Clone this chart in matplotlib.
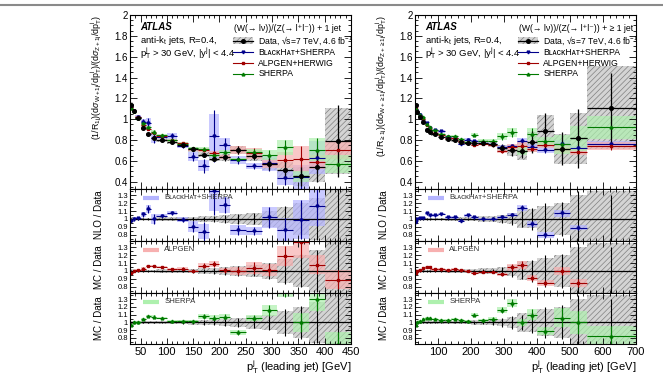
"""W/Z + jet ratio vs leading-jet pT, ATLAS style two-column figure."""
import numpy as np
import matplotlib.pyplot as plt
from matplotlib.lines import Line2D
from matplotlib.patches import Rectangle
from matplotlib.ticker import MultipleLocator

plt.rcParams['font.family'] = ['Liberation Sans', 'DejaVu Sans']
plt.rcParams['mathtext.fontset'] = 'custom'
plt.rcParams['mathtext.rm'] = 'Liberation Sans'
plt.rcParams['mathtext.it'] = 'Liberation Sans:italic'
plt.rcParams['mathtext.bf'] = 'Liberation Sans:bold'
plt.rcParams['hatch.linewidth'] = 0.5

# ---- exclusive 1 jet (left column) ----
EDGES_1J = [30, 35, 40, 50, 60, 70, 80, 100, 120, 140, 160, 180, 200, 220,
            250, 280, 310, 340, 370, 400, 450]
DATA_1J = [1.14, 1.08, 1.01, 0.92, 0.855, 0.82, 0.80, 0.78, 0.75, 0.71,
           0.66, 0.62, 0.635, 0.705, 0.65, 0.567, 0.51, 0.45, 0.545, 0.79]
STAT_1J = [0.01, 0.01, 0.01, 0.01, 0.01, 0.01, 0.01, 0.01, 0.015, 0.02,
           0.03, 0.04, 0.05, 0.06, 0.07, 0.1, 0.17, 0.21, 0.27, 0.44]
SYST_1J = [0.02, 0.02, 0.015, 0.015, 0.015, 0.015, 0.02, 0.02, 0.025, 0.03,
           0.035, 0.04, 0.05, 0.06, 0.08, 0.1, 0.15, 0.2, 0.27, 0.4]
BH_1J = [0.98, 1.0, 1.01, 1.06, 1.13, 1.0, 1.04, 1.075, 0.99, 0.90,
         0.84, 1.35, 1.18, 0.86, 0.85, 1.02, 0.86, 0.99, 1.16, np.nan]
BH_BAND_1J = [0.02, 0.02, 0.02, 0.03, 0.05, 0.06, 0.02, 0.03, 0.03, 0.07,
              0.1, 0.25, 0.1, 0.06, 0.05, 0.13, 0.15, 0.25, 0.25, 0.0]
BH_ERR_1J = [0.02, 0.02, 0.02, 0.03, 0.05, 0.06, 0.02, 0.03, 0.03, 0.07,
             0.12, 0.3, 0.1, 0.06, 0.05, 0.13, 0.15, 0.25, 0.25, 0.0]
ALP_1J = [0.98, 1.0, 1.01, 1.03, 1.065, 1.06, 1.05, 1.02, 1.03, 1.0,
          1.065, 1.09, 1.01, 1.0, 1.035, 1.01, 1.19, 1.37, 1.08, 0.89]
ALP_BAND_1J = [0.015, 0.015, 0.015, 0.015, 0.015, 0.015, 0.015, 0.015, 0.015, 0.015,
               0.03, 0.035, 0.03, 0.05, 0.08, 0.08, 0.13, 0.2, 0.12, 0.12]
SHP_1J = [0.97, 1.0, 1.0, 1.045, 1.08, 1.075, 1.06, 1.02, 1.02, 1.015,
          1.08, 1.06, 1.075, 0.87, 1.06, 1.155, 1.43, 1.0, 1.3, 0.72]
SHP_BAND_1J = [0.015, 0.015, 0.015, 0.015, 0.015, 0.015, 0.015, 0.015, 0.015, 0.015,
               0.03, 0.03, 0.03, 0.03, 0.04, 0.07, 0.1, 0.12, 0.15, 0.15]

# ---- inclusive >= 1 jet (right column) ----
EDGES_GE1J = [30, 35, 40, 50, 60, 70, 80, 100, 120, 140, 160, 180, 200, 220,
              250, 280, 310, 340, 370, 400, 450, 500, 550, 700]
DATA_GE1J = [1.135, 1.07, 1.024, 0.97, 0.90, 0.88, 0.855, 0.832, 0.81, 0.80,
             0.78, 0.77, 0.775, 0.775, 0.76, 0.72, 0.70, 0.695, 0.78, 0.885,
             0.715, 0.815, 1.11]
STAT_GE1J = [0.01, 0.01, 0.01, 0.01, 0.01, 0.01, 0.01, 0.01, 0.01, 0.01,
             0.01, 0.01, 0.015, 0.02, 0.03, 0.055, 0.08, 0.1, 0.14, 0.2,
             0.22, 0.35, 0.3]
SYST_GE1J = [0.02, 0.015, 0.015, 0.015, 0.015, 0.015, 0.015, 0.015, 0.02, 0.02,
             0.02, 0.025, 0.03, 0.035, 0.04, 0.05, 0.07, 0.12, 0.12, 0.17,
             0.2, 0.3, 0.36]
BH_GE1J = [0.96, 1.0, 1.015, 1.015, 1.07, 1.045, 1.045, 1.06, 1.02, 1.02,
           0.98, 1.045, 1.02, 1.0, 1.0, 1.02, 1.055, 1.14, 0.94, 0.80,
           1.07, 0.89, 0.69]
BH_BAND_GE1J = [0.015] * 16 + [0.02, 0.04, 0.04, 0.04, 0.04, 0.03, 0.03]
ALP_GE1J = [0.98, 1.0, 1.01, 1.035, 1.05, 1.045, 1.02, 1.02, 1.015, 1.02,
            1.01, 1.0, 0.975, 0.985, 0.99, 0.96, 1.045, 1.07, 0.91, 0.85,
            1.0, 0.845, 0.67]
ALP_BAND_GE1J = [0.015] * 15 + [0.02, 0.04, 0.05, 0.04, 0.04, 0.05, 0.05, 0.05]
SHP_GE1J = [0.965, 1.0, 1.02, 1.05, 1.06, 1.055, 1.045, 1.035, 1.035, 1.045,
            1.035, 1.02, 1.1, 1.025, 1.045, 1.16, 1.25, 1.0, 1.1, 0.89,
            1.06, 1.0, 0.83]
SHP_BAND_GE1J = [0.01] * 12 + [0.02, 0.015, 0.02, 0.04, 0.05, 0.05, 0.07, 0.05,
                               0.12, 0.15, 0.12]

BH_LABEL = 'B\u029f\u1d00\u1d04\u1d0bH\u1d00\u1d1b+SHERPA'

STYLES = {
    'bh': dict(color='#00008b', band='#b4b4ff', marker='v', ms=2.0),
    'alp': dict(color='#a00000', band='#f7b0b0', marker='s', ms=2.0),
    'shp': dict(color='#007a00', band='#aef0ae', marker='^', ms=2.0),
}
GRAY_FACE = '#d4d4d4'
GRAY_HATCH = '#808080'

W, H = 663, 376


def fig_rect(x0, y0, x1, y1):
    """pixel box -> figure fraction [left, bottom, width, height]"""
    return [x0 / W, 1 - y1 / H, (x1 - x0) / W, (y1 - y0) / H]


def style_axis(ax, xmax, xmajor, xminor):
    ax.set_xlim(30, xmax)
    ax.xaxis.set_major_locator(MultipleLocator(xmajor))
    ax.xaxis.set_minor_locator(MultipleLocator(xminor))
    ax.tick_params(which='both', direction='in', top=True, right=True, width=0.6)
    ax.tick_params(which='major', length=5)
    ax.tick_params(which='minor', length=2.5)
    for s in ax.spines.values():
        s.set_linewidth(0.8)


def draw_boxes(ax, edges, centre, half, **kw):
    edges = np.asarray(edges, float)
    centre = np.asarray(centre, float)
    half = np.asarray(half, float)
    ax.bar(edges[:-1], 2 * half, width=np.diff(edges), bottom=centre - half,
           align='edge', linewidth=0, **kw)


def draw_points(ax, edges, y, yerr, color, marker, ms, lw=0.8):
    edges = np.asarray(edges, float)
    mid = 0.5 * (edges[:-1] + edges[1:])
    ax.errorbar(mid, y, xerr=np.diff(edges) / 2, yerr=yerr, fmt=marker, color=color,
                ms=ms, lw=lw, elinewidth=lw, capsize=0)


def draw_column(fig, px0, px1, edges, data, stat, syst, mcs, xmax, xmajor, xminor,
                ylabel, title):
    data = np.asarray(data, float)
    stat = np.asarray(stat, float)
    syst = np.asarray(syst, float)

    ax = fig.add_axes(fig_rect(px0, 15, px1, 189))
    rats = [fig.add_axes(fig_rect(px0, y0, px1, y1))
            for y0, y1 in [(189, 241), (241, 293), (293, 344)]]

    # main panel
    draw_boxes(ax, edges, data, data * syst, facecolor=GRAY_FACE, edgecolor=GRAY_HATCH,
               hatch='//////')
    for key, ratio, band, err in mcs:
        st = STYLES[key]
        val = data * np.asarray(ratio, float)
        draw_boxes(ax, edges, val, val * np.asarray(band), color=st['band'], alpha=0.7)
    for key, ratio, band, err in mcs:
        st = STYLES[key]
        val = data * np.asarray(ratio, float)
        draw_points(ax, edges, val, val * np.asarray(err), st['color'], st['marker'], st['ms'])
    draw_points(ax, edges, data, data * stat, 'black', 'o', 2.6, lw=0.9)

    style_axis(ax, xmax, xmajor, xminor)
    ax.set_ylim(0.33, 2.0)
    ax.yaxis.set_minor_locator(MultipleLocator(0.05))
    ax.set_yticks([0.4, 0.6, 0.8, 1.0, 1.2, 1.4, 1.6, 1.8, 2.0],
                  ['0.4', '0.6', '0.8', '1', '1.2', '1.4', '1.6', '1.8', '2'])
    ax.tick_params(axis='y', labelsize=7, pad=1.5)
    ax.set_xticklabels([])
    ax.set_ylabel(ylabel, fontsize=6.4, loc='top')
    ax.yaxis.set_label_coords(-26 / 221, 1.0)

    ax.text(0.045, 0.93, 'ATLAS', transform=ax.transAxes, fontsize=7,
            fontweight='bold', fontstyle='italic', va='center')
    ax.text(0.045, 0.855, r'anti-k$_{\mathrm{t}}$ jets, R=0.4,', transform=ax.transAxes,
            fontsize=6.8, va='center')
    ax.text(0.045, 0.78, r'p$^{\mathrm{j}}_{\mathrm{T}}$ > 30 GeV, |y$^{\mathrm{j}}$| < 4.4',
            transform=ax.transAxes, fontsize=6.8, va='center')

    # legend, drawn by hand
    lx0, lx1, tx = 0.466, 0.557, 0.58
    ax.text(lx0 + 0.005, 0.925, title, transform=ax.transAxes, fontsize=6.2, va='center')
    rows = [0.853, 0.787, 0.724, 0.661]
    ax.add_patch(Rectangle((lx0, rows[0] - 0.018), lx1 - lx0, 0.036, transform=ax.transAxes,
                           facecolor=GRAY_FACE, edgecolor=GRAY_HATCH, hatch='//////',
                           linewidth=0))
    ax.plot([lx0, lx1], [rows[0]] * 2, color='black', lw=0.9, transform=ax.transAxes)
    ax.plot([(lx0 + lx1) / 2], [rows[0]], 'o', color='black', ms=2.6, transform=ax.transAxes)
    ax.text(tx, rows[0], 'Data, \u221as=7 TeV, 4.6 fb$^{-1}$', transform=ax.transAxes,
            fontsize=6.2, va='center')
    labels = {'bh': BH_LABEL, 'alp': 'ALPGEN+HERWIG', 'shp': 'SHERPA'}
    for y, key in zip(rows[1:], ['bh', 'alp', 'shp']):
        st = STYLES[key]
        ax.plot([lx0, lx1], [y, y], color=st['color'], lw=0.8, transform=ax.transAxes)
        ax.plot([(lx0 + lx1) / 2], [y], st['marker'], color=st['color'], ms=st['ms'],
                transform=ax.transAxes)
        ax.text(tx, y, labels[key], transform=ax.transAxes, fontsize=6.2, va='center')

    # ratio panels
    rlabels = ['NLO / Data', 'MC / Data', 'MC / Data']
    rnames = [BH_LABEL, 'ALPGEN', 'SHERPA']
    ones = np.ones_like(data)
    mid = 0.5 * (np.asarray(edges[:-1], float) + np.asarray(edges[1:], float))
    for rax, (key, ratio, band, err), rl, rn in zip(rats, mcs, rlabels, rnames):
        st = STYLES[key]
        draw_boxes(rax, edges, ones, syst, facecolor=GRAY_FACE, edgecolor=GRAY_HATCH,
                   hatch='//////')
        rax.errorbar(mid, ones, yerr=stat, fmt='none', ecolor='black', elinewidth=0.8)
        rax.axhline(1.0, color='black', lw=0.9)
        draw_boxes(rax, edges, ratio, band, color=st['band'], alpha=0.7)
        draw_points(rax, edges, ratio, err, st['color'], st['marker'], st['ms'])

        style_axis(rax, xmax, xmajor, xminor)
        rax.set_ylim(0.72, 1.38)
        rax.set_yticks([0.8, 0.9, 1.0, 1.1, 1.2, 1.3],
                       ['0.8', '0.9', '1', '1.1', '1.2', '1.3'])
        rax.yaxis.set_minor_locator(MultipleLocator(0.05))
        rax.tick_params(axis='y', labelsize=5.5, pad=1.5)
        rax.tick_params(which='major', length=4)
        rax.set_ylabel(rl, fontsize=7)
        rax.yaxis.set_label_coords(-26 / 221, 0.5)
        rax.plot([0.06, 0.13], [0.83, 0.83], color=st['band'], lw=3,
                 transform=rax.transAxes, solid_capstyle='butt')
        rax.text(0.155, 0.83, rn, transform=rax.transAxes, fontsize=5.6,
                 color='#333333', va='center')
    for rax in rats[:-1]:
        rax.set_xticklabels([])
    rats[-1].tick_params(axis='x', labelsize=8, pad=2)
    rats[-1].set_xlabel(r'p$^{\mathrm{j}}_{\mathrm{T}}$ (leading jet) [GeV]',
                        fontsize=8, loc='right', labelpad=1)


fig = plt.figure(figsize=(W / 100, H / 100), dpi=100)
fig.add_artist(Line2D([0, 1], [1 - 4.5 / H] * 2, color='#8a8a8a', lw=1.5))

draw_column(fig, 130, 351, EDGES_1J, DATA_1J, STAT_1J, SYST_1J,
            [('bh', BH_1J, BH_BAND_1J, BH_ERR_1J),
             ('alp', ALP_1J, ALP_BAND_1J, ALP_BAND_1J),
             ('shp', SHP_1J, SHP_BAND_1J, SHP_BAND_1J)],
            450, 50, 10,
            r'(1/R$_{\mathrm{1j}}$)(d$\sigma_{\mathrm{W+1j}}$/dp$^{\mathrm{j}}_{\mathrm{T}}$)'
            r'/(d$\sigma_{\mathrm{Z+1j}}$/dp$^{\mathrm{j}}_{\mathrm{T}}$)',
            '(W(\u2192 l\u03bd))/(Z(\u2192 l\u207al\u207b)) + 1 jet')

draw_column(fig, 415, 636, EDGES_GE1J, DATA_GE1J, STAT_GE1J, SYST_GE1J,
            [('bh', BH_GE1J, BH_BAND_GE1J, BH_BAND_GE1J),
             ('alp', ALP_GE1J, ALP_BAND_GE1J, ALP_BAND_GE1J),
             ('shp', SHP_GE1J, SHP_BAND_GE1J, SHP_BAND_GE1J)],
            700, 100, 20,
            r'(1/R$_{\mathrm{\geq 1j}}$)(d$\sigma_{\mathrm{W+\geq 1j}}$/dp$^{\mathrm{j}}_{\mathrm{T}}$)'
            r'/(d$\sigma_{\mathrm{Z+\geq 1j}}$/dp$^{\mathrm{j}}_{\mathrm{T}}$)',
            '(W(\u2192 l\u03bd))/(Z(\u2192 l\u207al\u207b)) + \u2265 1 jet')

fig.savefig('out.png', dpi=100)
